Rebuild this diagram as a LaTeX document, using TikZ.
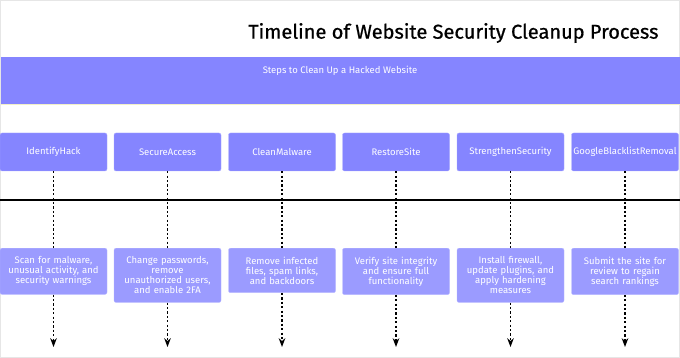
\documentclass[tikz,border=0pt]{standalone}
\usepackage{fontspec}
\setmainfont{Fira Sans}
\newfontfamily\titlefont[FakeBold=0.8]{Fira Sans}
\usetikzlibrary{arrows.meta}

\definecolor{taskblue}{HTML}{8585FF}
\definecolor{eventblue}{HTML}{9B9BFF}
\definecolor{edgeyellow}{HTML}{F2F0C8}
\definecolor{frame}{HTML}{E6E6E6}

\tikzset{
    taskbox/.style={fill=taskblue, draw=taskblue!70!white, rounded corners=2pt, minimum width=107pt, minimum height=38pt, inner sep=0pt, text=white, font=\fontsize{9.5}{12}\selectfont},
    eventbox/.style={fill=eventblue, draw=eventblue!70!white, rounded corners=2pt, text width=100pt, align=center, inner xsep=3.5pt, inner ysep=8.5pt, text=white, font=\fontsize{9.5}{10}\selectfont},
    vline/.style={line width=1.3pt, dash pattern=on 2.2pt off 2.2pt}
}

\begin{document}
\begin{tikzpicture}[x=1pt, y=-1pt, >=Stealth]
    \useasboundingbox (0,0) rectangle (680,358);
    \draw[frame, line width=2pt] (0,0) rectangle (680,358);
    % title
    \node[anchor=east, font=\titlefont\fontsize{20}{24}\selectfont] (title) at (662,33) {Timeline of Website Security Cleanup Process};
    % section
    \fill[edgeyellow] (1,103) rectangle (680,105);
    \node[fill=taskblue, minimum width=679pt, minimum height=47pt, inner sep=0pt, anchor=north west] (section) at (1,57) {};
    \node[text=white, font=\fontsize{9.5}{12}\selectfont] (sectionlabel) at (340,71) {Steps to Clean Up a Hacked Website};
    % timeline axis
    \coordinate (axisL) at (0,200);
    \coordinate (axisR) at (680,200);
    \draw[line width=2.6pt] (axisL) -- (axisR);
    % tasks
    \node[taskbox] (identify) at (53.5,152) {IdentifyHack};
    \node[taskbox] (secure) at (167.5,152) {SecureAccess};
    \node[taskbox] (clean) at (282,152) {CleanMalware};
    \node[taskbox] (restore) at (396,152) {RestoreSite};
    \node[taskbox] (strengthen) at (510.5,152) {StrengthenSecurity};
    \node[taskbox] (google) at (625,152) {GoogleBlacklistRemoval};
    % events
    \node[eventbox, anchor=north] (scan) at (53.5,248) {Scan for malware,\\ unusual activity, and\\ security warnings};
    \node[eventbox, anchor=north] (change) at (167.5,248) {Change passwords,\\ remove\\ unauthorized users,\\ and enable 2FA};
    \node[eventbox, anchor=north] (remove) at (282,248) {Remove infected\\ files, spam links,\\ and backdoors};
    \node[eventbox, anchor=north] (verify) at (396,248) {Verify site integrity\\ and ensure full\\ functionality};
    \node[eventbox, anchor=north] (install) at (510.5,248) {Install firewall,\\ update plugins, and\\ apply hardening\\ measures};
    \node[eventbox, anchor=north] (submit) at (625,248) {Submit the site for\\ review to regain\\ search rankings};
    % arrow ends
    \coordinate (endA) at (53.5,347);
    \coordinate (endB) at (167.5,347);
    \coordinate (endC) at (282,347);
    \coordinate (endD) at (396,347);
    \coordinate (endE) at (510.5,347);
    \coordinate (endF) at (625,347);
    % dashed connectors
    \draw[vline] (identify.south) -- (scan.north);
    \draw[vline] (secure.south) -- (change.north);
    \draw[vline] (clean.south) -- (remove.north);
    \draw[vline] (restore.south) -- (verify.north);
    \draw[vline] (strengthen.south) -- (install.north);
    \draw[vline] (google.south) -- (submit.north);
    \draw[vline, ->] (scan.south) -- (endA);
    \draw[vline, ->] (change.south) -- (endB);
    \draw[vline, ->] (remove.south) -- (endC);
    \draw[vline, ->] (verify.south) -- (endD);
    \draw[vline, ->] (install.south) -- (endE);
    \draw[vline, ->] (submit.south) -- (endF);
\end{tikzpicture}
\end{document}
